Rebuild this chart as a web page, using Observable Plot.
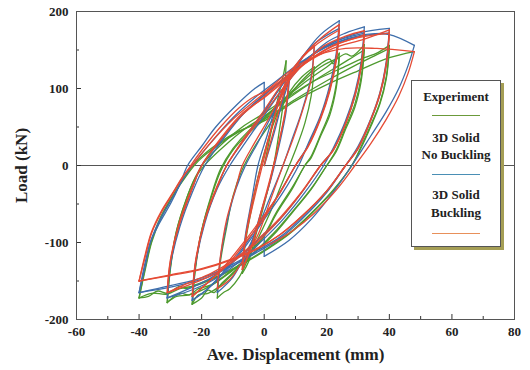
<!DOCTYPE html>
<html><head><meta charset="utf-8">
<script src="https://cdn.jsdelivr.net/npm/d3@7"></script>
<script src="https://cdn.jsdelivr.net/npm/@observablehq/plot@0.6"></script>
<style>
body{margin:0;background:#fff;}
#wrap{position:relative;width:530px;height:370px;}
#legend{position:absolute;left:411px;top:80px;width:88px;height:165px;border:1px solid #555;background:#fff;box-shadow:3px 3px 0 #a59e55;font:bold 13px "Liberation Serif",serif;color:#222;}
#legend .t{position:absolute;left:0;width:100%;text-align:center;line-height:15px;}
#legend .l{position:absolute;left:20px;width:48px;height:0;border-top:1.6px solid;}
</style></head>
<body><div id="wrap"></div>
<script>
// tick values
const xTicks = [-60, -40, -20, 0, 20, 40, 60, 80];
const xMinor = [-50, -30, -10, 10, 30, 50, 70];
const yTicks = [-200, -100, 0, 100, 200];
const yMinor = [-150, -50, 50, 150];
const seriesNames = ["Experiment", "3D Solid No Buckling", "3D Solid Buckling"];
const seriesColors = ["#4e9a2e", "#3e6eab", "#e54b35"];

// Experiment: hysteresis branches [displacement mm, load kN]
const experiment = [
  [[0,0],[2,40],[4,80],[6,115],[7,136]],
  [[7,136],[6.5,95],[5,50],[3,0],[0,-50],[-3,-95],[-5,-125],[-7,-140]],
  [[-7,-140],[-6,-100],[-4,-55],[-2,-15],[1,30],[4,65],[8,95],[12,115],[16,128]],
  [[16,128],[15,90],[13,55],[10,20],[8,0],[5,-30],[2,-60],[-2,-95],[-5,-120],[-8,-145],[-11,-160],[-13,-165],[-15,-172]],
  [[-15,-172],[-14,-125],[-12,-80],[-10,-40],[-7,-5],[-3,25],[2,55],[7,85],[12,110],[18,132],[21,138],[22,132],[24,146]],
  [[24,146],[23,105],[21,70],[18,40],[15,12],[13,0],[9,-28],[4,-60],[0,-90],[-4,-110],[-9,-135],[-14,-155],[-16,-165],[-18,-162],[-20,-172],[-23,-180]],
  [[-23,-180],[-22,-132],[-20,-84],[-17,-42],[-14,-8],[-10,20],[-5,42],[0,60],[6,85],[12,108],[18,128],[24,140]],
  [[24,140],[23,100],[21,66],[18,38],[15,10],[13,0],[9,-30],[4,-62],[0,-92],[-4,-112],[-9,-136],[-14,-156],[-18,-166],[-21,-168],[-23,-180]],
  [[-23,-180],[-22,-135],[-20,-85],[-17,-40],[-14,-5],[-10,22],[-5,45],[0,62],[6,85],[12,105],[20,128],[26,145],[28,142],[32,157]],
  [[32,157],[31,115],[29,80],[26,50],[23,20],[20,0],[15,-30],[9,-60],[3,-88],[-3,-112],[-10,-135],[-17,-155],[-21,-160],[-24,-168],[-27,-166],[-31,-178]],
  [[-31,-178],[-30,-132],[-28,-84],[-25,-45],[-22,-16],[-18,5],[-12,28],[-6,48],[0,64],[8,88],[16,110],[24,130],[28,140],[32,150]],
  [[32,150],[31,110],[29,76],[26,47],[23,18],[20,0],[15,-31],[9,-61],[3,-90],[-3,-113],[-10,-136],[-17,-156],[-24,-168],[-28,-170],[-31,-178]],
  [[-31,-178],[-30,-135],[-28,-85],[-25,-45],[-22,-15],[-19,5],[-13,30],[-7,50],[0,68],[8,90],[16,110],[24,125],[32,140],[36,146],[40,156]],
  [[40,156],[39,115],[37,82],[34,52],[31,25],[28,0],[22,-32],[15,-62],[8,-88],[2,-105],[-6,-125],[-14,-142],[-22,-155],[-25,-160],[-27,-157],[-31,-166],[-34,-163],[-37,-170],[-40,-172]],
  [[-40,-172],[-38,-132],[-36,-98],[-33,-66],[-29,-38],[-25,-14],[-21,6],[-15,26],[-8,44],[0,60],[10,86],[20,110],[30,132],[36,144],[40,152]],
  [[40,152],[39,112],[37,80],[34,50],[31,23],[28,0],[22,-33],[15,-63],[8,-89],[2,-106],[-6,-126],[-14,-143],[-22,-156],[-27,-160],[-31,-167],[-36,-166],[-40,-172]],
  [[-40,-172],[-38,-135],[-36,-100],[-33,-68],[-29,-38],[-25,-12],[-21,8],[-15,28],[-8,45],[0,58],[10,84],[20,105],[30,123],[40,140],[48,148]]
];

// 3D Solid No Buckling
const noBuckling = [
  [[0,0],[3,40],[6,85],[8,110]],
  [[8,110],[7,70],[5,30],[2,-20],[-1,-60],[-4,-100],[-7,-130]],
  [[-7,-130],[-6,-90],[-4,-45],[-2,0],[1,40],[4,80],[8,115],[12,140],[16,155]],
  [[16,155],[15,115],[12,70],[9,35],[6,0],[2,-40],[-2,-80],[-6,-115],[-10,-145],[-15,-165]],
  [[-15,-165],[-14,-120],[-12,-75],[-9,-30],[-6,0],[-2,30],[3,70],[8,110],[13,145],[18,170],[24,188]],
  [[24,188],[23,145],[21,105],[18,65],[14,28],[11,0],[6,-35],[0,-70],[-6,-105],[-13,-140],[-18,-160],[-23,-175]],
  [[-23,-175],[-22,-128],[-19,-72],[-15,-28],[-12,0],[-7,30],[-1,65],[5,100],[10,130],[16,158],[24,178]],
  [[24,178],[23,138],[21,100],[18,62],[14,26],[10,0],[5,-35],[-1,-72],[-7,-108],[-13,-138],[-18,-160],[-23,-175]],
  [[-23,-175],[-22,-130],[-19,-75],[-15,-30],[-11,0],[-6,30],[0,65],[6,100],[12,130],[20,160],[26,172],[32,180]],
  [[32,180],[31,135],[29,95],[26,58],[22,22],[19,0],[13,-35],[6,-70],[0,-95],[-8,-125],[-16,-148],[-24,-163],[-31,-172]],
  [[-31,-172],[-30,-128],[-27,-75],[-23,-30],[-20,0],[-14,32],[-8,62],[-1,88],[6,112],[14,140],[22,160],[28,168],[32,172]],
  [[32,172],[31,130],[29,90],[26,55],[22,20],[18,0],[12,-35],[5,-70],[-1,-93],[-9,-122],[-17,-146],[-24,-160],[-31,-172]],
  [[-31,-172],[-30,-130],[-27,-80],[-23,-35],[-19,0],[-13,35],[-6,70],[0,92],[6,112],[14,140],[22,160],[30,172],[40,178]],
  [[40,178],[39,135],[37,95],[34,60],[30,25],[26,0],[20,-35],[12,-70],[5,-95],[-2,-112],[-10,-130],[-20,-148],[-30,-158],[-40,-165]],
  [[-40,-165],[-38,-125],[-36,-95],[-33,-68],[-29,-40],[-26,-18],[-23,0],[-17,30],[-10,62],[-3,88],[4,110],[12,135],[22,158],[32,170],[40,172]],
  [[40,172],[39,130],[37,92],[34,58],[30,22],[26,0],[20,-33],[12,-68],[5,-93],[-2,-110],[-10,-128],[-20,-146],[-30,-156],[-40,-165]],
  [[-40,-165],[-38,-130],[-36.4,-100],[-33.5,-75],[-30,-50],[-27,-25],[-24.5,0],[-20,25],[-15.5,50],[-9,78],[-3,100],[0,108]],
  [[0,108],[0,68]],
  [[0,68],[4,95],[10,125],[18,150],[26,163],[34,170],[40,170],[48,156]],
  [[48,156],[46,130],[43,100],[39,70],[34,38],[28,0],[22,-35],[15,-70],[8,-97],[0,-118]],
  [[0,-118],[0,-88]]
];

// 3D Solid Buckling
const buckling = [
  [[0,0],[3,45],[6,90],[8,115]],
  [[8,115],[7,75],[5,35],[2,-15],[-1,-60],[-4,-105],[-7,-135]],
  [[-7,-135],[-6,-95],[-3,-40],[0,10],[3,60],[6,100],[8,118]],
  [[8,118],[7,78],[5,35],[2,-18],[-1,-62],[-4,-104],[-7,-135]],
  [[-7,-135],[-6,-95],[-4,-50],[-1,0],[2,45],[5,85],[9,120],[13,145],[16,155]],
  [[16,155],[15,112],[12,68],[9,32],[6,0],[2,-45],[-2,-90],[-7,-125],[-11,-148],[-15,-160]],
  [[-15,-160],[-14,-118],[-12,-70],[-9,-28],[-7,0],[-3,30],[2,65],[7,105],[12,140],[18,165],[24,183]],
  [[24,183],[23,140],[21,100],[18,62],[14,25],[10,0],[5,-35],[0,-68],[-6,-100],[-12,-130],[-18,-152],[-23,-170]],
  [[-23,-170],[-22,-125],[-19,-70],[-15,-26],[-12,0],[-7,32],[-1,66],[5,102],[11,135],[17,158],[24,176]],
  [[24,176],[23,135],[21,97],[18,60],[14,24],[10,0],[5,-36],[-1,-70],[-7,-102],[-13,-132],[-18,-152],[-23,-170]],
  [[-23,-170],[-22,-128],[-19,-72],[-15,-28],[-12,0],[-7,30],[-1,62],[5,95],[11,125],[19,155],[26,168],[32,175]],
  [[32,175],[31,130],[29,92],[26,55],[22,20],[18,0],[12,-35],[5,-70],[-1,-95],[-9,-122],[-17,-143],[-24,-155],[-31,-165]],
  [[-31,-165],[-30,-123],[-27,-72],[-23,-28],[-20,0],[-14,33],[-8,62],[-1,86],[6,110],[14,136],[22,156],[28,164],[32,170]],
  [[32,170],[31,128],[29,90],[26,54],[22,19],[18,0],[12,-34],[5,-68],[-1,-92],[-9,-120],[-17,-140],[-24,-152],[-31,-165]],
  [[-31,-165],[-30,-125],[-27,-75],[-23,-30],[-20,0],[-14,35],[-7,68],[0,88],[6,108],[14,135],[22,155],[30,166],[40,172]],
  [[40,172],[39,130],[37,92],[34,58],[30,22],[26,0],[20,-33],[12,-66],[5,-90],[-2,-108],[-10,-122],[-20,-135],[-30,-143],[-40,-150]],
  [[-40,-150],[-38,-115],[-36,-86],[-33,-60],[-29,-34],[-26,-14],[-23,0],[-17,30],[-10,60],[-3,84],[4,106],[12,130],[22,152],[32,164],[40,176]],
  [[40,176],[39,132],[37,94],[34,59],[30,23],[26,0],[20,-33],[12,-66],[5,-90],[-2,-107],[-10,-121],[-20,-134],[-30,-142],[-40,-150]],
  [[-40,-150],[-38,-118],[-36,-88],[-33,-62],[-29,-35],[-26,-15],[-23.5,0],[-19,25],[-14,50],[-8,75],[-3,90],[0,95]],
  [[0,95],[3,105],[9,125],[17,143],[26,152],[36,152],[48,148]],
  [[48,148],[46,120],[43,90],[39,60],[34,28],[29,0],[23,-32],[16,-62],[9,-85],[2,-102]]
];

function toRows(branches, name) {
  const out = [];
  branches.forEach((b, i) => b.forEach(([x, y]) => out.push({series: name, branch: name + i, x, y})));
  return out;
}
const allSeries = [experiment, noBuckling, buckling];

const marks = [
  Plot.ruleY([0], {stroke: "#555", strokeWidth: 1.1}),
  ...allSeries.map((br, i) => Plot.line(toRows(br, seriesNames[i]), {
    x: "x", y: "y", z: "branch", stroke: seriesColors[i], strokeWidth: 1.3, curve: "catmull-rom"
  })),
  Plot.tickX(xTicks, {x: d => d, insetTop: 303, stroke: "#333"}),
  Plot.tickX(xMinor, {x: d => d, insetTop: 305, stroke: "#333"}),
  Plot.tickY(yTicks, {y: d => d, insetRight: 433, stroke: "#333"}),
  Plot.tickY(yMinor, {y: d => d, insetRight: 435, stroke: "#333"}),
  Plot.frame({stroke: "#555"}),
  Plot.axisX({ticks: xTicks, tickSize: 0, tickPadding: 7, tickFormat: d => String(d),
    label: "Ave. Displacement (mm)", labelAnchor: "center", labelOffset: 40, labelArrow: "none"}),
  Plot.axisY({ticks: yTicks, tickSize: 0, tickPadding: 8, tickFormat: d => String(d),
    label: "Load (kN)", labelAnchor: "center", labelOffset: 62, labelArrow: "none"})
];

const chart = Plot.plot({
  width: 530, height: 370,
  marginLeft: 76, marginRight: 16, marginTop: 11, marginBottom: 51,
  x: {domain: [-60, 80]},
  y: {domain: [-200, 200]},
  style: {fontFamily: "'Liberation Serif', serif", fontWeight: "bold", fontSize: "13px", color: "#222", background: "#fff"},
  marks
});
const wrap = document.getElementById("wrap");
wrap.appendChild(chart);
for (const lab of ["x-axis label", "y-axis label"]) {
  const g = chart.querySelector(`[aria-label="${lab}"]`);
  if (g) {
    g.setAttribute("font-size", "17");
    g.querySelectorAll("text").forEach(t => { t.textContent = t.textContent.replace(/[↑→←↓]/g, "").trim(); });
  }
}

// legend
const legend = document.createElement("div");
legend.id = "legend";
const legendColors = ["#6b9a3a", "#4a8fb5", "#e8905a"];
const items = [
  ["t", "Experiment", 7.5], ["l", 0, 34],
  ["t", "3D Solid", 48.5], ["t", "No Buckling", 65.5], ["l", 1, 93],
  ["t", "3D Solid", 105.5], ["t", "Buckling", 123.5], ["l", 2, 152]
];
for (const [k, v, top] of items) {
  const el = document.createElement("div");
  el.className = k;
  el.style.top = top + "px";
  if (k === "t") el.textContent = v; else el.style.borderColor = legendColors[v];
  legend.appendChild(el);
}
wrap.appendChild(legend);
</script>
</body></html>
